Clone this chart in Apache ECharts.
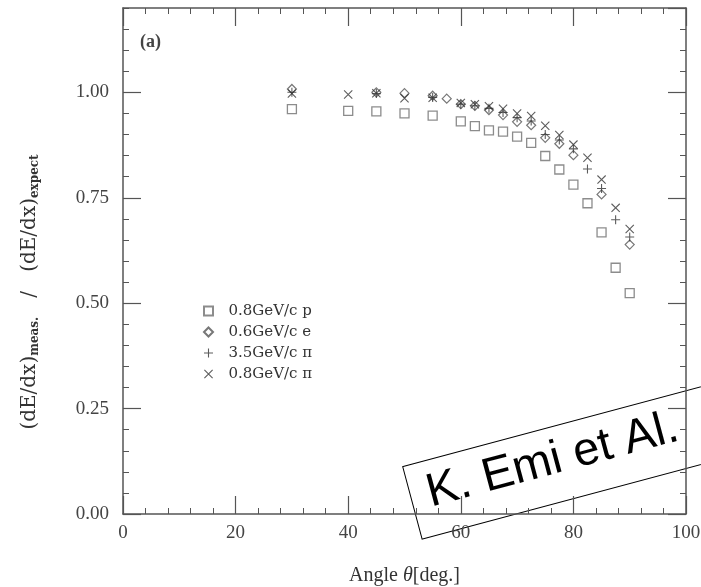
<!DOCTYPE html>
<html>
<head>
<meta charset="utf-8">
<script src="https://cdn.jsdelivr.net/npm/echarts@6/dist/echarts.min.js"></script>
<style>
  html, body { margin: 0; padding: 0; background: #fff; }
  #chart { width: 701px; height: 587px; }
</style>
</head>
<body>
<div id="chart"></div>
<script>
const anglesP = [30, 40, 45, 50, 55, 60, 62.5, 65, 67.5, 70, 72.5, 75, 77.5, 80, 82.5, 85, 87.5, 90]
const ratioP = [0.960, 0.956, 0.955, 0.950, 0.945, 0.931, 0.920, 0.910, 0.907, 0.895, 0.880, 0.849, 0.817, 0.781, 0.737, 0.668, 0.584, 0.524]

const anglesE = [30, 45, 50, 55, 57.5, 60, 62.5, 65, 67.5, 70, 72.5, 75, 77.5, 80, 85, 90]
const ratioE = [1.008, 1.000, 0.998, 0.992, 0.985, 0.972, 0.968, 0.958, 0.946, 0.930, 0.922, 0.892, 0.878, 0.851, 0.758, 0.639]

const anglesPi35 = [30, 45, 55, 60, 62.5, 65, 67.5, 70, 72.5, 75, 77.5, 80, 82.5, 85, 87.5, 90]
const ratioPi35 = [1.000, 0.997, 0.988, 0.972, 0.968, 0.962, 0.952, 0.940, 0.932, 0.900, 0.887, 0.866, 0.818, 0.772, 0.698, 0.657]

const anglesPi08 = [30, 40, 45, 50, 55, 60, 62.5, 65, 67.5, 70, 72.5, 75, 77.5, 80, 82.5, 85, 87.5, 90]
const ratioPi08 = [0.997, 0.995, 0.998, 0.986, 0.987, 0.975, 0.972, 0.967, 0.961, 0.950, 0.944, 0.921, 0.899, 0.876, 0.845, 0.793, 0.726, 0.676]

const seriesNames = ['0.8GeV/c p', '0.6GeV/c e', '3.5GeV/c \u03c0', '0.8GeV/c \u03c0']

const zip = (xs, ys) => xs.map((x, i) => [x, ys[i]])

const squarePath = 'path://M0,0H10V10H0Z'
const diamondPath = 'path://M5,0L10,5L5,10L0,5Z'
const plusPath = 'path://M4.4,0H5.6V4.4H10V5.6H5.6V10H4.4V5.6H0V4.4H4.4Z'
const crossPath = 'path://M0,0.85L0.85,0L10,9.15L9.15,10ZM0.85,10L0,9.15L9.15,0L10,0.85Z'

const serif = '"Liberation Serif", "DejaVu Serif", serif'
const wideSerif = '"DejaVu Serif", serif'
const frameColor = '#555'

const chart = echarts.init(document.getElementById('chart'))

const majorY = (pos, labels) => ({
  type: 'value', position: pos, min: 0, max: 1.2, interval: 0.25,
  axisLine: { show: true, lineStyle: { color: frameColor, width: 1.5 } },
  axisTick: { show: true, inside: true, length: 18, lineStyle: { color: frameColor, width: 1.2 } },
  axisLabel: {
    show: labels, margin: 14, showMaxLabel: false,
    color: '#444', fontFamily: serif, fontSize: 19,
    formatter: v => v.toFixed(2)
  },
  splitLine: { show: false }
})
const minorY = (pos) => ({
  type: 'value', position: pos, min: 0, max: 1.2, interval: 0.05,
  axisLine: { show: false },
  axisTick: { show: true, inside: true, length: 6, lineStyle: { color: frameColor, width: 1 } },
  axisLabel: { show: false },
  splitLine: { show: false }
})
const xAx = (pos, labels) => ({
  type: 'value', position: pos, min: 0, max: 100, interval: 20,
  axisLine: { show: true, onZero: false, lineStyle: { color: frameColor, width: 1.5 } },
  axisTick: { show: true, inside: true, length: 18, lineStyle: { color: frameColor, width: 1.2 } },
  minorTick: { show: true, splitNumber: 5, length: 6, lineStyle: { color: frameColor, width: 1 } },
  axisLabel: { show: labels, margin: 10, color: '#444', fontFamily: serif, fontSize: 19 },
  splitLine: { show: false }
})

const option = {
  animation: false,
  backgroundColor: '#fff',
  grid: { left: 123, right: 15, top: 8, bottom: 73, outerBoundsMode: 'none' },
  xAxis: [
    Object.assign(xAx('bottom', true), {
      name: 'Angle {it|\u03b8}[deg.]',
      nameLocation: 'middle',
      nameGap: 52,
      nameTextStyle: {
        color: '#333', fontFamily: serif, fontSize: 20,
        rich: { it: { fontStyle: 'italic', fontFamily: serif, fontSize: 20, color: '#333' } }
      }
    }),
    xAx('top', false)
  ],
  yAxis: [majorY('left', true), minorY('left'), majorY('right', false), minorY('right')],
  legend: {
    orient: 'vertical',
    left: 198, top: 298,
    itemWidth: 30, itemHeight: 9, itemGap: 5,
    symbolKeepAspect: true,
    textStyle: { color: '#333', fontFamily: wideSerif, fontSize: 15, lineHeight: 16 },
    data: seriesNames
  },
  series: [
    {
      name: seriesNames[0], type: 'scatter', symbol: squarePath, symbolSize: 9,
      itemStyle: { color: 'rgba(0,0,0,0)', borderColor: '#6f6f6f', borderWidth: 1.3 },
      data: zip(anglesP, ratioP)
    },
    {
      name: seriesNames[1], type: 'scatter', symbol: diamondPath, symbolSize: 9,
      itemStyle: { color: 'rgba(0,0,0,0)', borderColor: '#555', borderWidth: 1.2 },
      data: zip(anglesE, ratioE)
    },
    {
      name: seriesNames[2], type: 'scatter', symbol: plusPath, symbolSize: 9,
      itemStyle: { color: '#333' },
      data: zip(anglesPi35, ratioPi35)
    },
    {
      name: seriesNames[3], type: 'scatter', symbol: crossPath, symbolSize: 9,
      itemStyle: { color: '#333' },
      data: zip(anglesPi08, ratioPi08)
    }
  ],
  graphic: [
    {
      type: 'text', left: 140, top: 33,
      style: { text: '(a)', font: 'bold 18px ' + serif, fill: '#444' }
    },
    {
      type: 'text', x: 30, y: 292, rotation: Math.PI / 2,
      style: {
        text: '(dE/dx){sub|meas.}   /   (dE/dx){sub|expect}',
        align: 'center', verticalAlign: 'middle',
        font: '20px ' + wideSerif, fill: '#333',
        rich: {
          sub: { font: 'bold 12px ' + wideSerif, fill: '#333', padding: [10, 0, 0, 0] }
        }
      }
    },
    {
      type: 'group', x: 402.7, y: 466.7, rotation: 15 * Math.PI / 180,
      children: [
        {
          type: 'rect', shape: { x: 0, y: 0, width: 360, height: 75 },
          style: { fill: 'none', stroke: '#000', lineWidth: 1 }
        },
        {
          type: 'text', x: 17, y: 33,
          style: {
            text: 'K. Emi et Al.', font: '47px "Liberation Sans", Arial, sans-serif',
            fill: '#000', align: 'left', verticalAlign: 'middle'
          }
        }
      ]
    }
  ]
}

chart.setOption(option)
</script>
</body>
</html>
